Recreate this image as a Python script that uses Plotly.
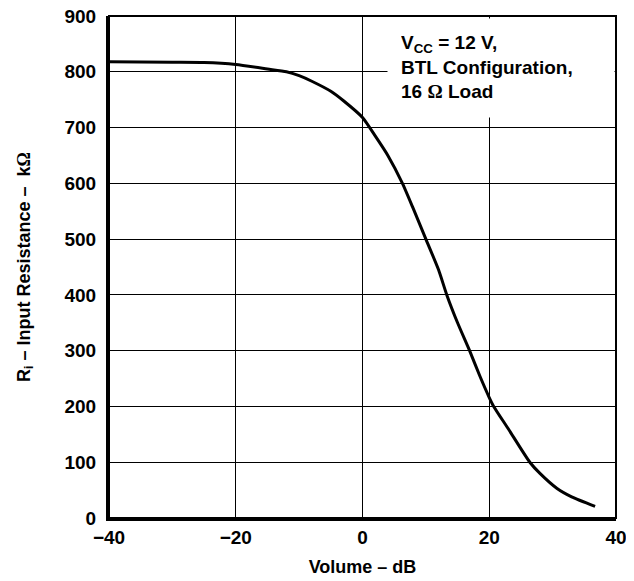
import plotly.graph_objects as go

volume_db = [-40, -30, -25, -20, -15, -12, -10, -8, -5, -3, 0, 2, 4, 6.3, 8, 10, 12,
             13.3, 15, 16.9, 18.5, 20, 20.7, 23, 26.4, 28, 30.7, 33, 36.7]
resistance_kohm = [818, 817, 816.5, 813, 805, 800, 793, 783, 765, 748, 718, 685, 650,
                   600, 555, 500, 445, 400, 350, 300, 255, 216, 200, 160, 100, 80, 53,
                   38, 21]

x_ticks = [-40, -20, 0, 20, 40]
y_ticks = [0, 100, 200, 300, 400, 500, 600, 700, 800, 900]

FONT = "Liberation Sans, Arial, sans-serif"
OMEGA = '<span style="font-family:Liberation Serif, serif">Ω</span>'

fig = go.Figure()
fig.add_trace(go.Scatter(
    x=volume_db, y=resistance_kohm, mode="lines",
    line=dict(color="black", width=3, shape="spline", smoothing=0.6),
    showlegend=False, hoverinfo="skip",
))

fig.update_layout(
    width=626, height=573,
    margin=dict(l=101, r=18, t=8, b=63, autoexpand=False),
    paper_bgcolor="white", plot_bgcolor="white",
    font=dict(family=FONT, size=19, color="black"),
    xaxis=dict(
        range=[-40, 40], tickvals=x_ticks, showgrid=True, gridcolor="black",
        gridwidth=1, zeroline=False, showline=True, linecolor="black", linewidth=3,
        ticks="", automargin=False, ticklabeloverflow="allow",
        tickfont=dict(family=FONT, size=19, color="black", weight="bold"),
        title=dict(text="<b>Volume – dB</b>", standoff=14,
                   font=dict(family=FONT, size=18, color="black")),
        fixedrange=True,
    ),
    yaxis=dict(
        range=[0, 900], tickvals=y_ticks, showgrid=True, gridcolor="black",
        gridwidth=1, zeroline=False, showline=True, linecolor="black", linewidth=3,
        ticks="", ticklabelstandoff=6, automargin=False, ticklabeloverflow="allow",
        tickfont=dict(family=FONT, size=19, color="black", weight="bold"),
        title=dict(text="<b>R<sub>i</sub> – Input Resistance –  k" + OMEGA + "</b>",
                   standoff=30, font=dict(family=FONT, size=18, color="black")),
        fixedrange=True,
    ),
    shapes=[dict(type="rect", xref="paper", yref="paper", x0=0, x1=1, y0=0, y1=1,
                 line=dict(color="black", width=2), layer="above")],
    annotations=[dict(
        xref="paper", yref="paper", x=0.548, y=0.997, xanchor="left", yanchor="top",
        align="left", valign="top", showarrow=False, bgcolor="white", borderpad=13,
        width=200, height=72,
        text="<b>V<sub>CC</sub> = 12 V,<br>BTL Configuration,<br>16 " + OMEGA + " Load</b>",
        font=dict(family=FONT, size=19, color="black"),
    )],
)

fig.write_html("out.html")
